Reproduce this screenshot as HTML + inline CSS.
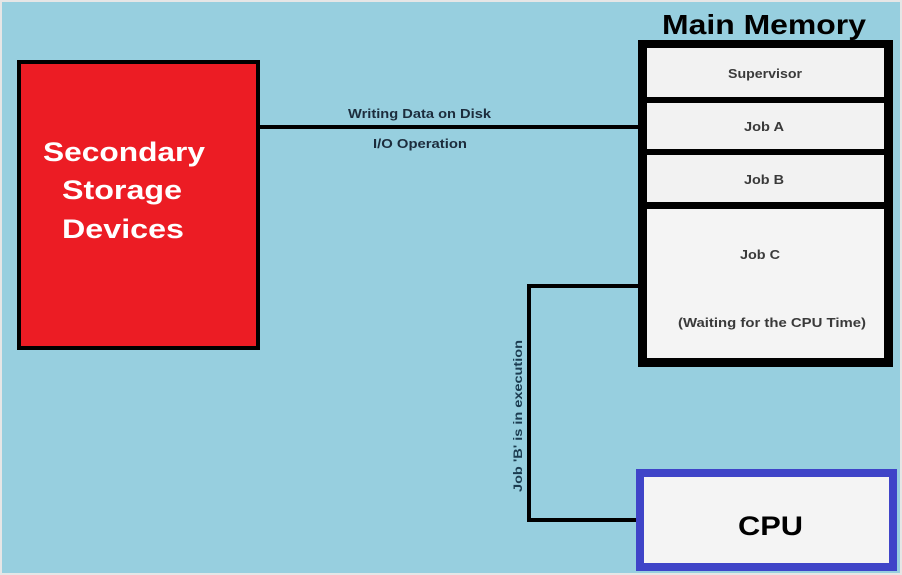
<!DOCTYPE html>
<html><head><style>
html,body{margin:0;padding:0;background:#fff}
svg{display:block}
text{font-family:"Liberation Sans",sans-serif;font-weight:bold}
</style></head><body>
<svg width="902" height="575" viewBox="0 0 902 575" xmlns="http://www.w3.org/2000/svg">
<rect x="0" y="0" width="902" height="575" fill="#e6e6e6"/>
<rect x="2" y="2" width="898" height="571" fill="#97cfdf"/>
<rect x="19" y="62" width="239" height="286" fill="#ec1c24" stroke="#000" stroke-width="4"/>
<text x="43" y="161" font-size="27" fill="#fff" textLength="162" lengthAdjust="spacingAndGlyphs">Secondary</text>
<text x="62" y="199" font-size="27" fill="#fff" textLength="120" lengthAdjust="spacingAndGlyphs">Storage</text>
<text x="62" y="238" font-size="27" fill="#fff" textLength="122" lengthAdjust="spacingAndGlyphs">Devices</text>
<line x1="258" y1="127" x2="642" y2="127" stroke="#000" stroke-width="4"/>
<text x="348" y="118" font-size="13" fill="#1c2c3c" textLength="143" lengthAdjust="spacingAndGlyphs">Writing Data on Disk</text>
<text x="373" y="148" font-size="13" fill="#1c2c3c" textLength="94" lengthAdjust="spacingAndGlyphs">I/O Operation</text>
<text x="662" y="34" font-size="28" fill="#000" textLength="204" lengthAdjust="spacingAndGlyphs">Main Memory</text>
<rect x="638" y="40" width="255" height="327" fill="#000"/>
<rect x="647" y="48" width="237" height="49" fill="#f2f2f2"/>
<rect x="647" y="103" width="237" height="46" fill="#f2f2f2"/>
<rect x="647" y="155" width="237" height="47" fill="#f2f2f2"/>
<rect x="647" y="209" width="237" height="149" fill="#f4f4f4"/>
<text x="728" y="78" font-size="13" fill="#3a3a3a" textLength="74" lengthAdjust="spacingAndGlyphs">Supervisor</text>
<text x="744" y="131" font-size="13" fill="#3a3a3a" textLength="40" lengthAdjust="spacingAndGlyphs">Job A</text>
<text x="744" y="184" font-size="13" fill="#3a3a3a" textLength="40" lengthAdjust="spacingAndGlyphs">Job B</text>
<text x="740" y="259" font-size="13" fill="#3a3a3a" textLength="40" lengthAdjust="spacingAndGlyphs">Job C</text>
<text x="678" y="327" font-size="13" fill="#3a3a3a" textLength="188" lengthAdjust="spacingAndGlyphs">(Waiting for the CPU Time)</text>
<polyline points="640,286 529,286 529,520 638,520" fill="none" stroke="#000" stroke-width="4"/>
<text transform="translate(522,492) rotate(-90)" font-size="12" fill="#1c3c50" textLength="152" lengthAdjust="spacingAndGlyphs">Job 'B' is in execution</text>
<rect x="640" y="473" width="253" height="94" fill="#f4f4f4" stroke="#3f44c8" stroke-width="8"/>
<text x="738" y="535" font-size="27" fill="#000" textLength="65" lengthAdjust="spacingAndGlyphs">CPU</text>
</svg>
</body></html>
